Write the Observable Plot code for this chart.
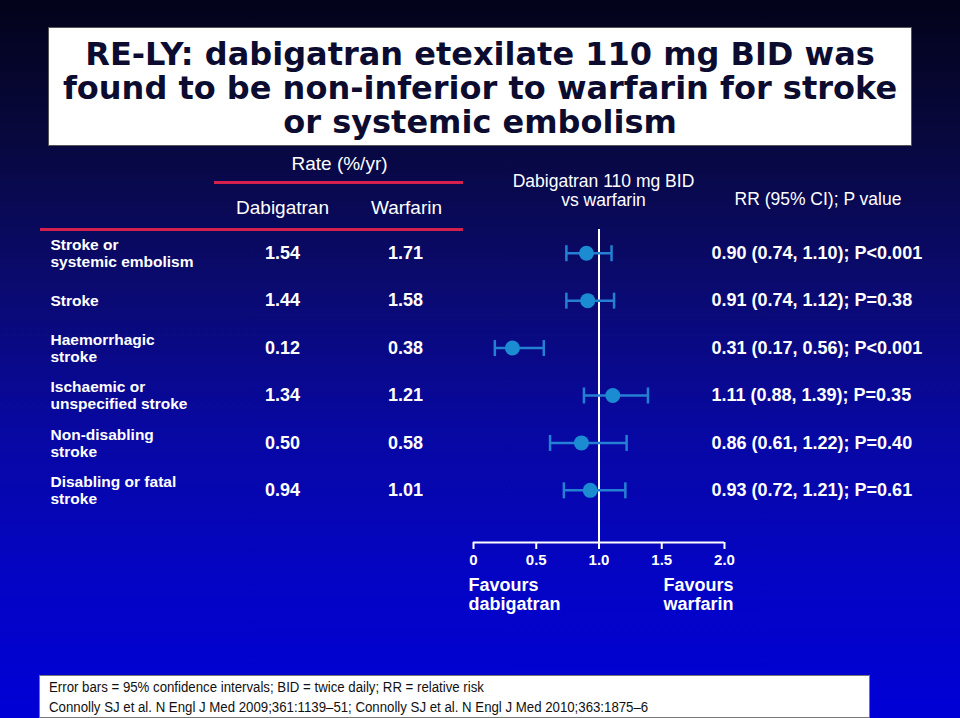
<!DOCTYPE html>
<html>
<head>
<meta charset="utf-8">
<script src="https://cdn.jsdelivr.net/npm/d3@7"></script>
<script src="https://cdn.jsdelivr.net/npm/@observablehq/plot@0.6"></script>
<style>
  html, body { margin: 0; padding: 0; }
  body { width: 960px; height: 718px; overflow: hidden; }
  #slide {
    position: relative; width: 960px; height: 718px; overflow: hidden;
    background: linear-gradient(180deg, #03031a 0%, #080840 20%, #0a0a70 40%, #0808a2 60%, #0404c4 80%, #0000d6 100%);
    font-family: "Liberation Sans", Arial, sans-serif;
  }
  #title {
    position: absolute; left: 48px; top: 27px; width: 862px; height: 117px;
    background: #fff; border: 1px solid #555; box-sizing: content-box;
    font-family: "DejaVu Sans", Verdana, sans-serif; font-weight: bold;
    font-size: 32px; line-height: 34px; color: #0c0c30; text-align: center;
    white-space: nowrap;
  }
  #title .inner { position: absolute; left: 0; right: 0; top: 9px; }
  #chart { position: absolute; left: 0; top: 0; }
  .redline { position: absolute; height: 3px; background: #d4204c; }
  #foot {
    position: absolute; left: 39px; top: 675px; width: 829px; height: 41px;
    background: #fff; border: 1px solid #777;
    font-family: "Liberation Sans", Arial, sans-serif;
    font-size: 14px; line-height: 20px; color: #111; white-space: nowrap;
  }
  #foot .inner { position: absolute; left: 9px; top: 1px; transform: scaleX(0.945); transform-origin: left top; }
</style>
</head>
<body>
<div id="slide">
  <div id="title"><div class="inner">RE-LY: dabigatran etexilate 110 mg BID was<br>found to be non-inferior to warfarin for stroke<br>or systemic embolism</div></div>
  <div class="redline" style="left:214px; top:181px; width:249px;"></div>
  <div class="redline" style="left:40px; top:228px; width:423px;"></div>
  <div id="chart"></div>
  <div id="foot"><div class="inner">Error bars = 95% confidence intervals; BID = twice daily; RR = relative risk<br>Connolly SJ et al. N Engl J Med 2009;361:1139–51; Connolly SJ et al. N Engl J Med 2010;363:1875–6</div></div>
</div>
<script>
// ---- Data ----
const outcomes = [
  "Stroke or\nsystemic embolism",
  "Stroke",
  "Haemorrhagic\nstroke",
  "Ischaemic or\nunspecified stroke",
  "Non-disabling\nstroke",
  "Disabling or fatal\nstroke"
];
const rateDabigatran = [1.54, 1.44, 0.12, 1.34, 0.50, 0.94];
const rateWarfarin   = [1.71, 1.58, 0.38, 1.21, 0.58, 1.01];
const rr    = [0.90, 0.91, 0.31, 1.11, 0.86, 0.93];
const ciLow = [0.74, 0.74, 0.17, 0.88, 0.61, 0.72];
const ciHigh= [1.10, 1.12, 0.56, 1.39, 1.22, 1.21];
const pValues = ["P<0.001", "P=0.38", "P<0.001", "P=0.35", "P=0.40", "P=0.61"];
const xTicks = [0, 0.5, 1.0, 1.5, 2.0];
const xTickLabels = ["0", "0.5", "1.0", "1.5", "2.0"];

const rows = outcomes.map((label, i) => ({
  i, label,
  dabi: rateDabigatran[i], warf: rateWarfarin[i],
  rr: rr[i], lo: ciLow[i], hi: ciHigh[i], p: pValues[i]
}));

const yDomain = [-0.5, 6.1];
const blue = "#1b8bd2";
const barBlue = "#2480d2";
const capSymbol = {
  draw(ctx, size) {
    const r = Math.sqrt(size / Math.PI);
    ctx.moveTo(0, -r); ctx.lineTo(0, r);
  }
};
const bold = {fontWeight: "bold", fill: "white"};
const hdr = {textAnchor: "middle", lineAnchor: "middle", fill: "white"};

const chart = Plot.plot({
  width: 960, height: 718,
  marginLeft: 473, marginRight: 236, marginTop: 229, marginBottom: 176,
  style: {background: "transparent", color: "white", fontFamily: "'Liberation Sans', Arial, sans-serif", overflow: "visible"},
  x: {domain: [0, 2]},
  y: {domain: yDomain, reverse: true, axis: null},
  marks: [
    // headers
    Plot.text(["Rate (%/yr)"], {text: d => d, frameAnchor: "top-left", dx: -134, dy: -66, fontSize: 19, ...hdr}),
    Plot.text(["Dabigatran"], {text: d => d, frameAnchor: "top-left", dx: -191, dy: -22, fontSize: 19, ...hdr}),
    Plot.text(["Warfarin"], {text: d => d, frameAnchor: "top-left", dx: -67, dy: -22, fontSize: 19, ...hdr}),
    Plot.text(["Dabigatran 110 mg BID\nvs warfarin"], {text: d => d, frameAnchor: "top-left", dx: 130, dy: -39.5, fontSize: 17.5, lineHeight: 1.09, ...hdr}),
    Plot.text(["RR (95% CI); P value"], {text: d => d, frameAnchor: "top-right", dx: 10, dy: -30, fontSize: 17.5, ...hdr, textAnchor: "start"}),
    // reference line & axis
    Plot.ruleX([1], {stroke: "white", strokeWidth: 2}),
    Plot.ruleY([yDomain[1]], {stroke: "white", strokeWidth: 2}),
    Plot.axisX({ticks: xTicks, tickFormat: () => "", tickSize: 7, tickPadding: 0, stroke: "white", strokeWidth: 2, label: null}),
    Plot.text(xTicks, {x: d => d, text: (d, i) => xTickLabels[i], frameAnchor: "bottom", dy: 18, lineAnchor: "middle", textAnchor: "middle", fontSize: 15, ...bold}),
    // forest plot
    Plot.ruleY(rows, {y: "i", x1: "lo", x2: "hi", stroke: barBlue, strokeWidth: 2.5}),
    Plot.dot(rows, {x: "lo", y: "i", r: 8, symbol: capSymbol, fill: "none", stroke: barBlue, strokeWidth: 2.5}),
    Plot.dot(rows, {x: "hi", y: "i", r: 8, symbol: capSymbol, fill: "none", stroke: barBlue, strokeWidth: 2.5}),
    Plot.dot(rows, {x: "rr", y: "i", r: 7.5, fill: blue, stroke: "none"}),
    // table columns
    Plot.text(rows, {y: "i", text: "label", frameAnchor: "left", dx: -423, textAnchor: "start", lineAnchor: "middle", fontSize: 15.5, lineHeight: 1.1, ...bold}),
    Plot.text(rows, {y: "i", text: d => d.dabi.toFixed(2), frameAnchor: "left", dx: -191, textAnchor: "middle", lineAnchor: "middle", fontSize: 18, ...bold}),
    Plot.text(rows, {y: "i", text: d => d.warf.toFixed(2), frameAnchor: "left", dx: -68, textAnchor: "middle", lineAnchor: "middle", fontSize: 18, ...bold}),
    Plot.text(rows, {y: "i", text: d => `${d.rr.toFixed(2)} (${d.lo.toFixed(2)}, ${d.hi.toFixed(2)}); ${d.p}`, frameAnchor: "right", dx: -13, textAnchor: "start", lineAnchor: "middle", fontSize: 18, ...bold}),
    // favours labels
    Plot.text(["Favours\ndabigatran"], {text: d => d, frameAnchor: "bottom-left", dx: -5, dy: 51.5, textAnchor: "start", lineAnchor: "middle", fontSize: 18, lineHeight: 1.06, ...bold}),
    Plot.text(["Favours\nwarfarin"], {text: d => d, frameAnchor: "bottom-right", dx: 9, dy: 51.5, textAnchor: "end", lineAnchor: "middle", fontSize: 18, lineHeight: 1.06, ...bold})
  ]
});
document.getElementById("chart").appendChild(chart);
</script>
</body>
</html>
